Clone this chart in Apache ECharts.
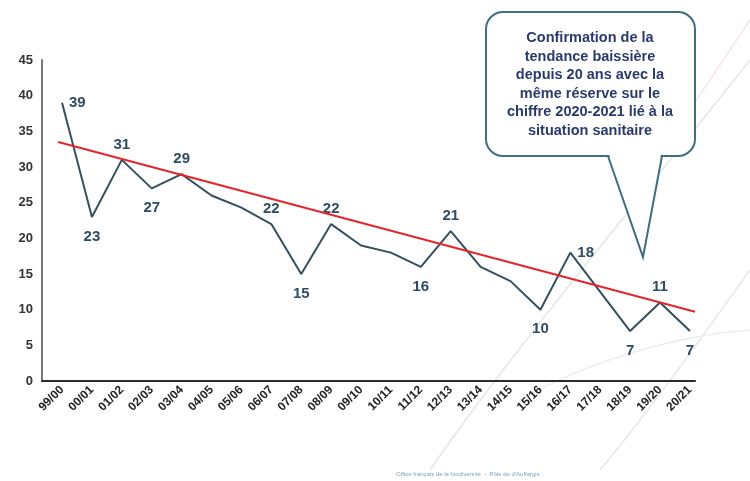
<!DOCTYPE html>
<html>
<head>
<meta charset="utf-8">
<script src="https://cdn.jsdelivr.net/npm/echarts@6/dist/echarts.min.js"></script>
<style>
html,body{margin:0;padding:0;background:#fff;}
#chart{width:750px;height:481px;}
</style>
</head>
<body>
<div id="chart"></div>
<script>
// ---- data ----
var categories = ['99/00','00/01','01/02','02/03','03/04','04/05','05/06','06/07','07/08','08/09','09/10','10/11','11/12','12/13','13/14','14/15','15/16','16/17','17/18','18/19','19/20','20/21'];
var values = [39, 23, 31, 27, 29, 26, 24.3, 22, 15, 22, 19, 18, 16, 21, 16, 14, 10, 18, 12.5, 7, 11, 7];
// which points carry a value label, and where
var labelled = [0,1,2,3,4,7,8,9,12,13,16,17,19,20,21];
var labelSide = ['right','bottom','top','bottom','top','top','bottom','top','bottom','top','bottom','right','bottom','top','bottom'];
// trend line endpoints (x in category index units, y in value)
var trendX = [-0.13, 21.17];
var trendY = [33.5, 9.7];
var yTicks = {min: 0, max: 45, step: 5};
var calloutLines = ['Confirmation de la','tendance baissière','depuis 20 ans avec la','même réserve sur le','chiffre 2020-2021 lié à la','situation sanitaire'];
var footer = 'Office français de la biodiversité  -  Pôle de d\'Auffargis';

// ---- build ----
var labelColor = '#2e4c63';
var lineData = values.map(function (v, i) {
  var k = labelled.indexOf(i);
  var item = { value: [i, v] };
  if (k >= 0) {
    var side = labelSide[k];
    item.label = {
      show: true, position: side,
      distance: side === 'bottom' ? 11 : (side === 'top' ? 7 : 6)
    };
  }
  return item;
});
var trendData = trendX.map(function (x, i) { return [x, trendY[i]]; });
var xIdx = categories.map(function (c, i) { return i; });

var chart = echarts.init(document.getElementById('chart'), null, {renderer: 'canvas'});
var option = {
  backgroundColor: '#ffffff',
  animation: false,
  grid: { left: 42, right: 55, top: 60, bottom: 100, containLabel: false },
  xAxis: {
    type: 'value',
    min: -0.67, max: 21.17,
    splitLine: { show: false },
    axisLine: { show: true, onZero: false, lineStyle: { color: '#2b2b2b', width: 2 } },
    axisTick: { show: false },
    axisLabel: {
      customValues: xIdx,
      rotate: 45,
      margin: 7,
      color: '#222',
      fontFamily: 'Liberation Sans, Arial, sans-serif',
      fontWeight: 'bold',
      fontSize: 12,
      formatter: function (v) { return categories[Math.round(v)]; }
    }
  },
  yAxis: {
    type: 'value',
    min: yTicks.min, max: yTicks.max, interval: yTicks.step,
    splitLine: { show: false },
    axisLine: { show: true, onZero: false, lineStyle: { color: '#7a7a7a', width: 2 } },
    axisTick: { show: false },
    axisLabel: {
      margin: 9,
      color: '#333',
      fontFamily: 'Liberation Sans, Arial, sans-serif',
      fontWeight: 'bold',
      fontSize: 13
    }
  },
  series: [
    {
      type: 'line',
      data: lineData,
      symbol: 'circle',
      symbolSize: 2,
      showSymbol: true,
      showAllSymbol: true,
      itemStyle: { color: 'rgba(0,0,0,0)', borderWidth: 0 },
      lineStyle: { color: '#34505f', width: 2 },
      label: {
        color: labelColor,
        fontFamily: 'Liberation Sans, Arial, sans-serif',
        fontWeight: 'bold',
        fontSize: 15,
        formatter: function (p) { return p.value[1]; }
      },
      z: 3
    },
    {
      type: 'line',
      data: trendData,
      symbol: 'none',
      silent: true,
      lineStyle: { color: '#e3262b', width: 2 },
      z: 4
    }
  ],
  graphic: [
    // faint background swooshes
    { type: 'bezierCurve', z: -10, silent: true,
      shape: { x1: 750, y1: 60, x2: 430, y2: 470, cpx1: 640, cpy1: 200, cpx2: 520, cpy2: 340 },
      style: { stroke: '#e6e6e6', lineWidth: 1.5, fill: null } },
    { type: 'bezierCurve', z: -10, silent: true,
      shape: { x1: 750, y1: 270, x2: 600, y2: 470, cpx1: 700, cpy1: 340, cpx2: 650, cpy2: 410 },
      style: { stroke: '#e8e8e8', lineWidth: 1.5, fill: null } },
    { type: 'bezierCurve', z: -10, silent: true,
      shape: { x1: 520, y1: 400, x2: 750, y2: 330, cpx1: 590, cpy1: 360, cpx2: 680, cpy2: 335 },
      style: { stroke: '#ececec', lineWidth: 1.5, fill: null } },
    { type: 'bezierCurve', z: -10, silent: true,
      shape: { x1: 750, y1: 20, x2: 690, y2: 110, cpx1: 730, cpy1: 50, cpx2: 710, cpy2: 80 },
      style: { stroke: '#f3dede', lineWidth: 1.2, fill: null } },
    // callout bubble: rounded box + tail
    { type: 'rect', z: 20, silent: true,
      shape: { x: 486, y: 12, width: 209, height: 144, r: 17 },
      style: { fill: '#ffffff', stroke: '#3f6f7f', lineWidth: 2 } },
    { type: 'polygon', z: 21, silent: true,
      shape: { points: [[609, 154], [643, 256], [661, 154]] },
      style: { fill: '#ffffff', stroke: null } },
    { type: 'polyline', z: 22, silent: true,
      shape: { points: [[608, 156], [643, 257], [662, 156]] },
      style: { stroke: '#3f6f7f', lineWidth: 2, fill: null } },
    { type: 'text', z: 23, silent: true, x: 590, y: 29,
      style: {
        text: calloutLines.join('\n'),
        align: 'center',
        fill: '#2a3a6c',
        font: 'bold 14.5px "Liberation Sans", Arial, sans-serif',
        lineHeight: 18.5
      } },
    // footer
    { type: 'text', z: 5, silent: true, x: 396, y: 471,
      style: { text: footer, fill: '#6a8fb0', font: '6px "Liberation Sans", Arial, sans-serif', opacity: 0.85 } }
  ]
};
chart.setOption(option);
</script>
</body>
</html>
